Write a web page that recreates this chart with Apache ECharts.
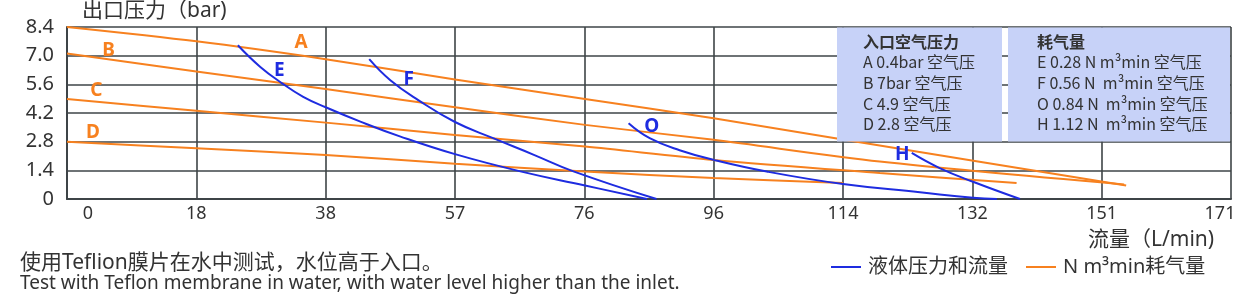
<!DOCTYPE html>
<html>
<head>
<meta charset="utf-8">
<script src="https://cdn.jsdelivr.net/npm/echarts@6/dist/echarts.min.js"></script>
<style>
html,body{margin:0;padding:0;background:#fff;}
#c{width:1244px;height:303px;}
</style>
</head>
<body>
<div id="c"></div>
<script>
// ---- data ----
const xTickLabels = ['0','18','38','57','76','96','114','132','151','171'];
const yTickLabels = ['0','1.4','2.8','4.2','5.6','7.0','8.4'];

// air consumption lines (orange)
const lineA = [[0,8.40],[19.0,7.70],[38.0,6.83],[57.0,5.84],[76.1,4.88],[95.0,3.94],[116.0,2.80],[155.6,0.66]];
const lineB = [[0,7.11],[19.0,6.23],[38.0,5.37],[57.0,4.48],[76.1,3.62],[95.0,2.89],[119.4,1.83],[155.3,0.71]];
const lineC = [[0,4.88],[19.0,4.31],[38.0,3.73],[57.0,3.13],[76.1,2.56],[95.0,1.91],[119.4,1.27],[139.5,0.78]];
const lineD = [[0,2.79],[19.0,2.48],[38.0,2.15],[57.0,1.72],[76.1,1.34],[95.0,1.02],[114.0,0.78]];

// liquid pressure / flow curves (blue)
const curveE = [[25.1,7.51],[28.4,6.45],[31.6,5.65],[34.7,4.99],[38.0,4.48],[43.1,3.78],[48.9,3.06],[57.0,2.19],[66.6,1.35],[76.1,0.66],[85.2,0]];
const curveF = [[44.4,6.83],[47.5,5.80],[51.6,4.83],[57.0,3.76],[62.6,2.97],[68.5,2.17],[74.4,1.35],[86.6,0]];
const curveO = [[82.5,3.70],[85.6,2.97],[90.0,2.38],[95.0,1.91],[102.8,1.34],[114.0,0.73],[125.3,0.33],[133.1,0.06],[136.6,0]];
const curveH = [[124.1,2.25],[128.2,1.51],[133.2,0.83],[140.0,0]];

const curveNames = ['A','B','C','D','E','F','O','H'];
const labelPos = [[34.4,7.62],[6.1,7.23],[4.3,5.27],[3.8,3.24],[31.2,6.29],[50.2,5.81],[85.9,3.53],[122.7,2.16]];

const legendBlue = '液体压力和流量';
const legendOrange = 'N m³min耗气量';

const boxLeftTitle = '入口空气压力';
const boxLeftLines = ['A 0.4bar 空气压','B 7bar 空气压','C 4.9 空气压','D 2.8 空气压'];
const boxRightTitle = '耗气量';
const boxRightLines = ['E 0.28 N m³min 空气压','F 0.56 N  m³min 空气压','O 0.84 N  m³min 空气压','H 1.12 N  m³min 空气压'];

const yTitle = '出口压力（bar)';
const xTitle = '流量（L/min)';
const note1 = '使用Teflion膜片在水中测试，水位高于入口。';
const note2 = 'Test with Teflon membrane in water, with water level higher than the inlet.';

// ---- styles ----
const ORANGE = '#f7811f';
const BLUE = '#1e2ce0';
const GRIDC = '#3e4447';
const TXT = '#333333';
const FONT = '"Noto Sans CJK SC", "Noto Sans", sans-serif';
const FONT2 = '"Noto Sans", "Noto Sans CJK SC", sans-serif';

const chart = echarts.init(document.getElementById('c'), null, {renderer:'canvas'});

const allData = [lineA,lineB,lineC,lineD,curveE,curveF,curveO,curveH];
const series = allData.map((d,i)=>{
  const isOrange = i < 4;
  const col = isOrange ? ORANGE : BLUE;
  return {
    type:'line',
    name: isOrange ? legendOrange : legendBlue,
    data: d,
    smooth: isOrange ? 0.3 : 0.45,
    symbol:'none',
    color: col,
    lineStyle:{color:col,width:2},
    z: isOrange ? 3 : 4
  };
});
series.push({
  type:'scatter',
  name:'labels',
  symbolSize:0,
  z:10,
  silent:true,
  itemStyle:{opacity:1},
  data: labelPos.map((p,i)=>({value:p, label:{show:true, color: i<4 ? ORANGE : BLUE,
    fontWeight:'bold', fontSize:19, fontFamily:FONT2, opacity:1}})),
  label:{show:true, position:'inside', fontFamily:FONT2, fontWeight:'bold', fontSize:19,
         formatter:(p)=>curveNames[p.dataIndex]}
});

function boxTexts(x, title, lines){
  const out = [{type:'text', left:x, top:34, z:101,
    style:{text:title, fill:TXT, font:'bold 16px '+FONT}}];
  lines.forEach((t,k)=>{
    out.push({type:'text', left:x, top:54+k*20.8, z:101,
      style:{text:t, fill:TXT, font:'16px '+FONT}});
  });
  return out;
}

const option = {
  animation:false,
  backgroundColor:'#ffffff',
  grid:{left:67, right:13, top:27, bottom:104},
  xAxis:{
    type:'value', min:0, max:171, interval:19,
    axisLine:{show:true, onZero:false, lineStyle:{color:GRIDC,width:2}},
    axisTick:{show:false},
    splitLine:{show:true, lineStyle:{color:GRIDC,width:1.6}},
    axisLabel:{
      color:TXT, fontFamily:FONT2, fontSize:18, margin:6, showMaxLabel:true, showMinLabel:true,
      formatter:(v)=>{
        const i = Math.round(v/19);
        if(i===0) return '{first|'+xTickLabels[0]+'}';
        if(i===xTickLabels.length-1) return '{last|'+xTickLabels[i]+'}';
        return xTickLabels[i];
      },
      rich:{
        first:{padding:[0,0,0,42], color:TXT, fontFamily:FONT2, fontSize:18},
        last:{padding:[0,22,0,0], color:TXT, fontFamily:FONT2, fontSize:18}
      }
    }
  },
  yAxis:{
    type:'value', min:0, max:8.4, interval:1.4,
    axisLine:{show:true, lineStyle:{color:GRIDC,width:2}},
    axisTick:{show:false},
    splitLine:{show:true, lineStyle:{color:GRIDC,width:1.6}},
    axisLabel:{
      color:TXT, fontFamily:FONT2, fontSize:20, margin:13,
      formatter:(v)=>yTickLabels[Math.round(v/1.4)]
    }
  },
  legend:{
    data:[legendBlue, legendOrange],
    left:826, top:252,
    icon:'rect', itemWidth:30, itemHeight:2, itemGap:18,
    textStyle:{color:TXT, fontFamily:FONT2, fontSize:20, padding:[0,0,0,2]}
  },
  graphic:[
    {type:'rect', z:100, shape:{x:837,y:27.5,width:165,height:114}, style:{fill:'#c7d2f8'}},
    {type:'rect', z:100, shape:{x:1008,y:27.5,width:222,height:114}, style:{fill:'#c7d2f8'}},
    ...boxTexts(863, boxLeftTitle, boxLeftLines),
    ...boxTexts(1037, boxRightTitle, boxRightLines),
    {type:'text', left:82, top:1, style:{text:yTitle, fill:TXT, font:'21px '+FONT2}},
    {type:'text', left:1088, top:230, style:{text:xTitle, fill:TXT, font:'21px '+FONT2}},
    {type:'text', left:20, top:253, style:{text:note1, fill:TXT, font:'21px '+FONT2}},
    {type:'text', left:20, top:274, style:{text:note2, fill:TXT, font:'19px '+FONT2}}
  ],
  series: series
};
chart.setOption(option);
</script>
</body>
</html>
